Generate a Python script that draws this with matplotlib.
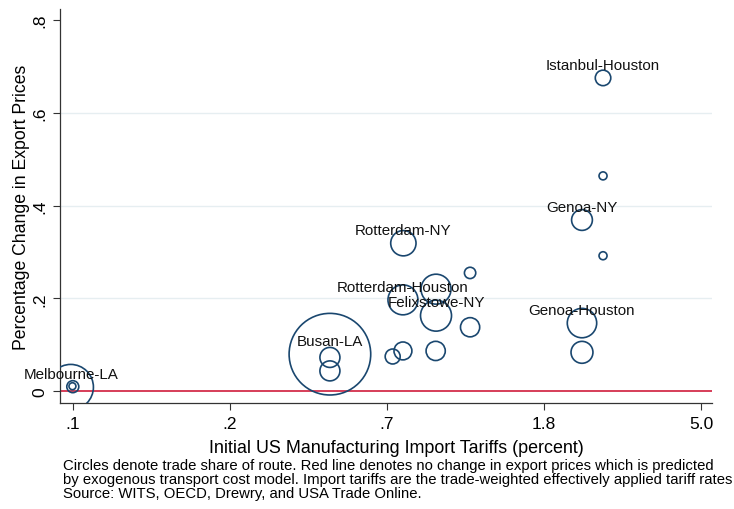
import numpy as np
import matplotlib
matplotlib.use("Agg")
import matplotlib.pyplot as plt

plt.rcParams['font.family'] = ['Liberation Sans', 'DejaVu Sans']

# ---------------------------------------------------------------
# data: tariff (percent), change in export price, trade share
# ---------------------------------------------------------------
tariff = [0.0894, 0.0906, 0.0904,
          0.466, 0.466, 0.466,
          0.744, 1.138, 0.742, 0.916, 0.916, 1.138, 0.742, 0.695, 0.914,
          2.654, 2.654, 2.321, 2.654, 2.321, 2.321]
price_change = [0.009, 0.010, 0.011,
                0.080, 0.073, 0.044,
                0.319, 0.255, 0.197, 0.220, 0.163, 0.138, 0.087, 0.075, 0.087,
                0.675, 0.464, 0.369, 0.292, 0.147, 0.084]
trade_share = [12.9, 0.9, 0.3,
               41.6, 2.5, 2.5,
               4.0, 0.8, 5.6, 5.6, 6.0, 2.3, 2.0, 1.4, 2.3,
               1.5, 0.4, 2.7, 0.4, 5.4, 3.0]
route = ['Melbourne-LA', '', '',
         'Busan-LA', '', '',
         'Rotterdam-NY', '', 'Rotterdam-Houston', '', 'Felixstowe-NY', '', '', '', '',
         'Istanbul-Houston', '', 'Genoa-NY', '', 'Genoa-Houston', '']

xtick_labels = ['.1', '.2', '.7', '1.8', '5.0']
ytick_vals = [0, 0.2, 0.4, 0.6, 0.8]
ytick_labels = ['0', '.2', '.4', '.6', '.8']

NAVY = '#1a476f'
RED = '#d01c3c'

# ---------------------------------------------------------------
# figure
# ---------------------------------------------------------------
fig = plt.figure(figsize=(7.34, 5.10), dpi=100)
ax = fig.add_axes([0.0817, 0.2078, 0.8883, 0.7722])

# x axis is log(tariff); ticks sit at equal steps of log
ax.set_xscale('log')
ax.set_xlim(np.exp(-2.483), np.exp(1.670))
ax.set_ylim(-0.0252, 0.823)

for g in [0.2, 0.4, 0.6]:
    ax.axhline(g, color='#e6eef1', lw=1.0, zorder=0)
ax.axhline(0, color=RED, lw=1.2, zorder=1)

sizes = np.array(trade_share) * 83.0
ax.scatter(tariff, price_change, s=sizes, facecolors='none',
           edgecolors=NAVY, linewidths=1.2, zorder=3)

for x, y, lab in zip(tariff, price_change, route):
    if lab:
        ax.annotate(lab, (x, y), xytext=(0, 9.5), textcoords='offset points',
                    ha='center', va='center', fontsize=10.9, color='#111111',
                    zorder=4)

tick_pos = np.exp([-2.4, -1.4, -0.4, 0.6, 1.6])
ax.set_xticks(tick_pos)
ax.set_xticklabels(xtick_labels, fontsize=12.5)
ax.xaxis.set_minor_locator(matplotlib.ticker.NullLocator())
ax.set_yticks(ytick_vals)
ax.set_yticklabels(ytick_labels, fontsize=12.5, rotation=90, va='center')
ax.tick_params(axis='both', direction='out', length=5, width=0.8, color='#333333')
ax.tick_params(axis='x', pad=4)
ax.tick_params(axis='y', pad=4)

for side in ['top', 'right']:
    ax.spines[side].set_visible(False)
for side in ['left', 'bottom']:
    ax.spines[side].set_color('#333333')
    ax.spines[side].set_linewidth(0.9)

ax.set_xlabel('Initial US Manufacturing Import Tariffs (percent)', fontsize=12.9)
ax.xaxis.set_label_coords(0.516, -0.091)
ax.set_ylabel('Percentage Change in Export Prices', fontsize=12.7)
ax.yaxis.set_label_coords(-0.046, 0.5)

note = ("Circles denote trade share of route. Red line denotes no change in export prices which is predicted\n"
        "by exogenous transport cost model. Import tariffs are the trade-weighted effectively applied tariff rates\n"
        "Source: WITS, OECD, Drewry, and USA Trade Online.")
fig.text(63 / 734, 1 - 459 / 510, note, fontsize=10.7, ha='left', va='top',
         linespacing=1.0, color='#000000')

fig.savefig('out.png', dpi=100)
